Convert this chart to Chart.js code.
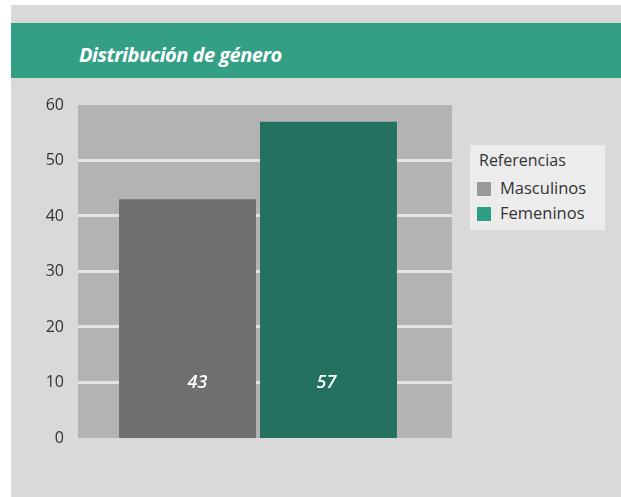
<!DOCTYPE html>
<html>
<head>
<meta charset="utf-8">
<script src="https://cdn.jsdelivr.net/npm/chart.js@4.4.0/dist/chart.umd.min.js"></script>
<style>
  html, body { margin: 0; padding: 0; background: #fff; }
  .panel { position: absolute; left: 11px; top: 5px; width: 610px; height: 492px; background: #d9d9d9; }
  .header { position: absolute; left: 11px; top: 23px; width: 610px; height: 55px; background: #33a086; }
  .header span { position: absolute; left: 68px; top: 18px; color: #fff; font: italic 700 20px "Open Sans", sans-serif; letter-spacing: -0.5px; }
  canvas { position: absolute; left: 0; top: 0; }
  .legend { position: absolute; left: 470px; top: 145px; width: 135px; height: 85px; background: #ececec; font-family: "Open Sans", sans-serif; color: #333; }
  .legend .ttl { position: absolute; left: 9px; top: 4px; font-size: 16px; }
  .legend .item { position: absolute; left: 7px; font-size: 16.5px; }
  .legend .sw { display: inline-block; width: 14px; height: 14px; vertical-align: -2px; margin-right: 9px; }
</style>
</head>
<body>
<div class="panel"></div>
<div class="header"><span>Distribución de género</span></div>
<canvas id="c" width="621" height="497"></canvas>
<div class="legend">
  <div class="ttl">Referencias</div>
  <div class="item" style="top:31px"><span class="sw" style="background:#9a9a9a"></span>Masculinos</div>
  <div class="item" style="top:56px"><span class="sw" style="background:#2e9e85"></span>Femeninos</div>
</div>
<script>
const categories = [''];
const seriesNames = ['Masculinos', 'Femeninos'];
const masculinos = [43];
const femeninos = [57];
const yTicks = [0, 10, 20, 30, 40, 50, 60];

const ctx = document.getElementById('c').getContext('2d');

// plot background + grid lines (plot box is a bit wider than the chart area)
const plotBack = {
  id: 'plotBack',
  beforeDatasetsDraw(chart) {
    const a = chart.chartArea, y = chart.scales.y, c = chart.ctx;
    c.save();
    c.fillStyle = '#b3b3b3';
    c.fillRect(a.left, a.top, a.right - a.left + 14, a.bottom - a.top);
    c.strokeStyle = '#e3e3e3';
    c.lineWidth = 3;
    yTicks.slice(1, -1).forEach(v => {
      const py = Math.round(y.getPixelForValue(v)) - 0.5;
      c.beginPath();
      c.moveTo(a.left, py);
      c.lineTo(a.right + 14, py);
      c.stroke();
    });
    c.restore();
  }
};

// value labels inside the bars
const labelShift = [10, -2];
const valueLabels = {
  id: 'valueLabels',
  afterDatasetsDraw(chart) {
    const c = chart.ctx, a = chart.chartArea;
    c.save();
    c.fillStyle = '#fff';
    c.font = 'italic 600 18px "Open Sans", sans-serif';
    c.textAlign = 'center';
    c.textBaseline = 'middle';
    chart.data.datasets.forEach((ds, i) => {
      chart.getDatasetMeta(i).data.forEach((bar, j) => {
        c.fillText(ds.data[j], bar.x + labelShift[i], a.bottom - 55);
      });
    });
    c.restore();
  }
};

new Chart(ctx, {
  type: 'bar',
  data: {
    labels: categories,
    datasets: [
      { label: seriesNames[0], data: masculinos, backgroundColor: '#6f6f6f' },
      { label: seriesNames[1], data: femeninos, backgroundColor: '#24715f' }
    ]
  },
  options: {
    responsive: false,
    animation: false,
    categoryPercentage: 0.783,
    barPercentage: 0.972,
    layout: { padding: { left: 38, top: 105, right: 183, bottom: 59 } },
    plugins: { legend: { display: false }, tooltip: { enabled: false } },
    scales: {
      x: { display: false },
      y: {
        min: 0, max: 60,
        afterFit(s) { s.width = 40; },
        border: { display: false },
        grid: { display: false },
        ticks: {
          stepSize: 10,
          padding: 6,
          color: '#333',
          font: { family: '"Open Sans", sans-serif', size: 16 }
        }
      }
    }
  },
  plugins: [plotBack, valueLabels]
});
</script>
</body>
</html>
